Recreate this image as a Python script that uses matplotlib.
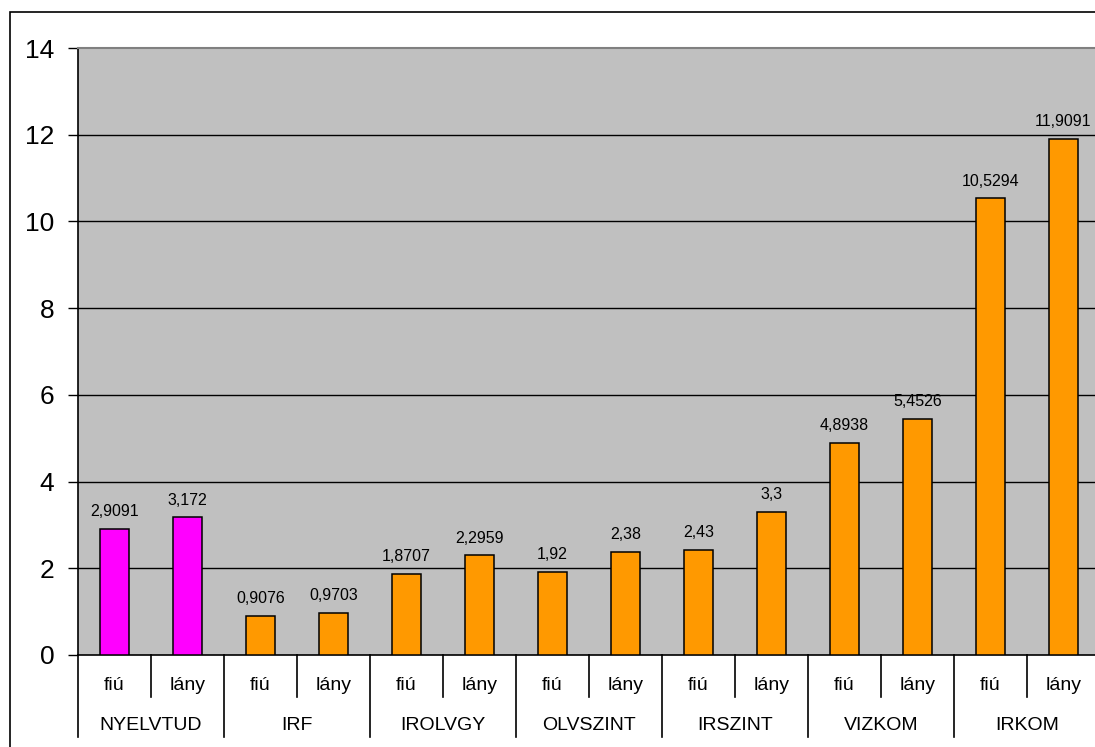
import numpy as np
import matplotlib
matplotlib.use("Agg")
import matplotlib.pyplot as plt
import matplotlib.transforms as mtrans
from matplotlib.patches import Rectangle

plt.rcParams['font.family'] = ['Liberation Sans', 'DejaVu Sans']

# data
groups = ['NYELVTUD', 'IRF', 'IROLVGY', 'OLVSZINT', 'IRSZINT', 'VIZKOM', 'IRKOM']
sexes = ['fiú', 'lány']
values = [2.9091, 3.172, 0.9076, 0.9703, 1.8707, 2.2959, 1.92, 2.38,
          2.43, 3.3, 4.8938, 5.4526, 10.5294, 11.9091]
labels = ['2,9091', '3,172', '0,9076', '0,9703', '1,8707', '2,2959', '1,92', '2,38',
          '2,43', '3,3', '4,8938', '5,4526', '10,5294', '11,9091']
colors = ['#FF00FF'] * 2 + ['#FF9900'] * 12
yticks = np.arange(0, 15, 2)

W, H = 1095, 747
fig = plt.figure(figsize=(W / 100, H / 100), dpi=100)
fig.patch.set_facecolor('white')

# outer chart border (only top/left visible)
fig.patches.append(Rectangle((10 / W, -0.5), 2, 1 - 12 / H + 0.5, transform=fig.transFigure,
                             fill=False, edgecolor='black', lw=1.2))

left, right, top, bottom = 78, 78 + 14 * 73, 48, 655
ax = fig.add_axes([left / W, 1 - bottom / H, (right - left) / W, (bottom - top) / H])
ax.set_facecolor('#C0C0C0')

x = np.arange(len(values))
ax.bar(x, values, width=0.41, color=colors, edgecolor='black', linewidth=1.1, zorder=3)
for xi, v, lab in zip(x, values, labels):
    ax.annotate(lab, (xi, v), xytext=(0, 7), textcoords='offset points',
                ha='center', va='bottom', fontsize=11.5, zorder=4)

ax.set_xlim(-0.5, len(values) - 0.5)
ax.set_ylim(0, 14)
ax.set_yticks(yticks)
ax.tick_params(axis='y', labelsize=19, length=7, width=1, pad=10)
ax.set_xticks([])
for t in yticks[1:-1]:
    ax.axhline(t, color='black', lw=1, zorder=1)
ax.spines['top'].set_color('#808080')
ax.spines['top'].set_linewidth(1.5)
ax.spines['right'].set_visible(False)
ax.spines['left'].set_linewidth(1.2)
ax.spines['bottom'].set_linewidth(1.2)

# category axis labels
trans = mtrans.blended_transform_factory(ax.transData, ax.transAxes)
px = 1 / (bottom - top)
for i in range(len(values)):
    ax.text(i, -30 * px, sexes[i % 2], transform=trans, ha='center', va='center', fontsize=14)
for i in range(1, len(values)):
    depth = 82 if i % 2 == 0 else 42
    ax.plot([i - 0.5, i - 0.5], [0, -depth * px], transform=trans, color='black', lw=1.2,
            clip_on=False)
ax.plot([-0.5, -0.5], [0, -82 * px], transform=trans, color='black', lw=1.2, clip_on=False)
for g, name in enumerate(groups):
    ax.text(2 * g + 0.5, -70 * px, name, transform=trans, ha='center', va='center', fontsize=14)

fig.savefig('out.png', dpi=100)
